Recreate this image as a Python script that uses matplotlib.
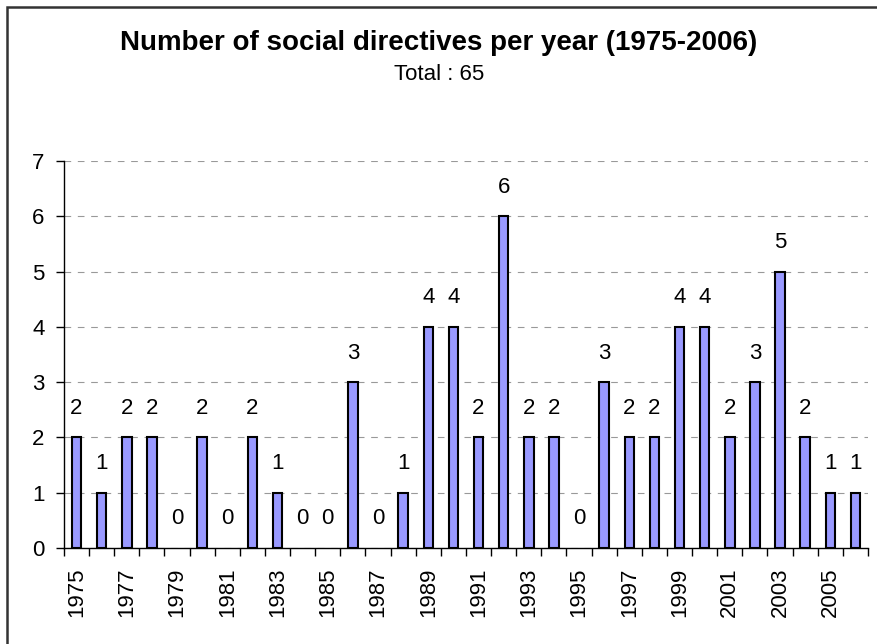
import matplotlib
matplotlib.use('Agg')
import matplotlib.pyplot as plt
from matplotlib.patches import Rectangle
import numpy as np

plt.rcParams['font.family'] = ['Liberation Sans', 'DejaVu Sans']

years = list(range(1975, 2007))
counts = [2, 1, 2, 2, 0, 2, 0, 2, 1, 0, 0, 3, 0, 1, 4, 4,
          2, 6, 2, 2, 0, 3, 2, 2, 4, 4, 2, 3, 5, 2, 1, 1]
year_labels = [str(y) if (y - 1975) % 2 == 0 else '' for y in years]

W, H = 878, 644
fig = plt.figure(figsize=(W / 100, H / 100), dpi=100)
ax = fig.add_axes([64 / W, (H - 548) / H, (868 - 64) / W, (548 - 161) / H])

x = np.arange(len(years))
# zero bars get no outline, like the original
edges = ['black' if c > 0 else 'none' for c in counts]
ax.bar(x, counts, width=0.38, color='#9999ff', edgecolor=edges,
       linewidth=1.5, zorder=3)

for xi, c in zip(x, counts):
    ax.annotate(str(c), (xi, c), xytext=(0, 29), textcoords='offset pixels',
                ha='center', va='center', fontsize=16)

ax.set_xlim(-0.5, len(years) - 0.5)
ax.set_ylim(0, 7)
ax.set_yticks(range(8))
ax.tick_params(axis='y', labelsize=16, length=6, width=1, direction='out', pad=8)

ax.set_xticks(x)
ax.set_xticklabels(year_labels, rotation=90, fontsize=16)
ax.set_xticks(np.arange(len(years) + 1) - 0.5, minor=True)
ax.tick_params(axis='x', which='major', length=0, pad=14)
ax.tick_params(axis='x', which='minor', length=6, width=1, direction='out')

ax.grid(axis='y', linestyle=(0, (6, 6)), color='#999999', linewidth=0.8, zorder=0)
for s in ['top', 'right']:
    ax.spines[s].set_visible(False)
ax.spines['left'].set_linewidth(1)
ax.spines['bottom'].set_linewidth(1)

fig.text(0.5, 1 - 43 / H, 'Number of social directives per year (1975-2006)',
         ha='center', va='center', fontsize=20, fontweight='bold')
fig.text(0.5, 1 - 74 / H, 'Total : 65', ha='center', va='center', fontsize=16)

fig.patches.append(Rectangle((7 / W, -0.1), 1.2, 1 + 0.1 - 7 / H,
                             transform=fig.transFigure, fill=False,
                             edgecolor='#333333', linewidth=1.8))

fig.savefig('out.png', dpi=100)
